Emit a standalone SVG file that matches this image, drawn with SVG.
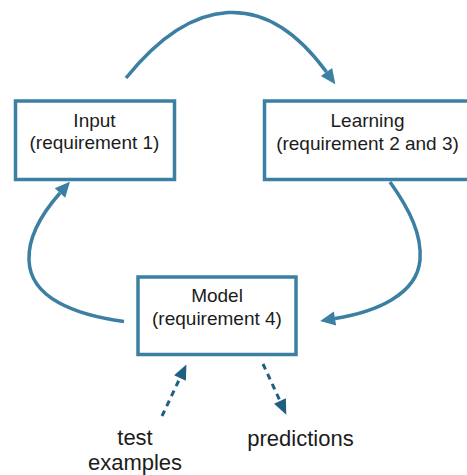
<svg xmlns="http://www.w3.org/2000/svg" width="467" height="475" viewBox="0 0 467 475">
  <style>
    .box { fill: #ffffff; stroke: #3b7fa3; stroke-width: 3.5; }
    .lbl { font-family: "Liberation Sans", Arial, Helvetica, sans-serif; font-size: 19px; fill: #1c1c1c; text-anchor: middle; }
    .io { font-family: "Liberation Sans", Arial, Helvetica, sans-serif; font-size: 22px; fill: #1c1c1c; text-anchor: middle; }
    .flow { fill: none; stroke: #3b7fa3; stroke-width: 3.5; stroke-linecap: butt; marker-end: url(#head); }
    .use { fill: none; stroke: #1f5f80; stroke-width: 3; stroke-dasharray: 6 5; marker-end: url(#headDark); }
  </style>
  <defs>
    <marker id="head" markerUnits="userSpaceOnUse" markerWidth="16" markerHeight="14" refX="0" refY="7" orient="auto" overflow="visible">
      <path d="M0,0 L15,7 L0,14 Z" fill="#3b7fa3"/>
    </marker>
    <marker id="headDark" markerUnits="userSpaceOnUse" markerWidth="16" markerHeight="13" refX="0" refY="6.5" orient="auto" overflow="visible">
      <path d="M0,0 L15,6.5 L0,13 Z" fill="#1f5f80"/>
    </marker>
  </defs>

  <rect width="467" height="475" fill="#ffffff"/>

  <!-- cycle and usage connectors -->
  <g id="connectors">
    <path class="flow" d="M126,78 C192,-3.7 264.7,-12.9 326.5,72"/>
    <path class="flow" d="M390,182 C410,210 422,235 420,260 C417,295 375,312 335,318.5"/>
    <path class="flow" d="M124,321.5 C75,315 30,298 29,260 C28,235 45,210 60,193"/>
    <path class="use" d="M162,416 L180,378"/>
    <path class="use" d="M263,364 L280,401"/>
  </g>

  <g id="input">
    <rect class="box" x="15.5" y="101" width="159" height="78.5"/>
    <text class="lbl" x="94.5" y="127">Input</text>
    <text class="lbl" x="94.5" y="149">(requirement 1)</text>
  </g>

  <g id="learning">
    <rect class="box" x="264.5" y="101" width="220" height="78.5"/>
    <text class="lbl" x="367.5" y="127">Learning</text>
    <text class="lbl" x="367.5" y="149.5">(requirement 2 and 3)</text>
  </g>

  <g id="model">
    <rect class="box" x="138" y="277" width="158" height="77.5"/>
    <text class="lbl" x="217" y="302">Model</text>
    <text class="lbl" x="217" y="325">(requirement 4)</text>
  </g>

  <g id="test-examples">
    <text class="io" x="135" y="444.5">test</text>
    <text class="io" x="135" y="470">examples</text>
  </g>

  <g id="predictions">
    <text class="io" x="300.5" y="445.5">predictions</text>
  </g>
</svg>
